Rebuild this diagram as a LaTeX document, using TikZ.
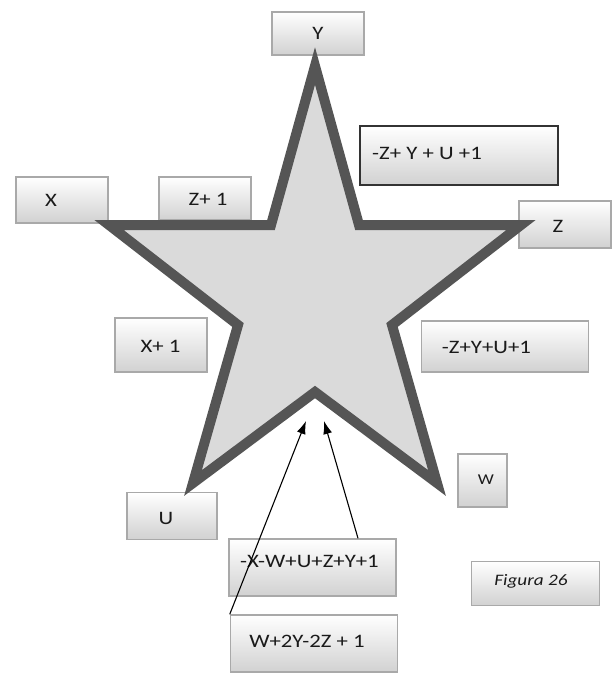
\documentclass[tikz,border=0pt]{standalone}
\usepackage{fontspec}
\setmainfont[FakeStretch=1.2]{Carlito}
\usetikzlibrary{arrows.meta,calc}
\definecolor{boxgray}{HTML}{A9A9A9}
\definecolor{starline}{HTML}{555555}
\definecolor{starfill}{HTML}{DADADA}
\definecolor{txt}{HTML}{1A1A1A}
\tikzset{
  boxst/.style={draw=boxgray, line width=1.5pt, top color=white, bottom color=black!18, inner sep=0pt},
  lbl/.style={text=txt, font=\fontsize{19}{21}\selectfont, inner sep=0pt},
  arr/.style={line width=1.1pt, -{Latex[length=13pt,width=9pt]}},
}
\begin{document}
\begin{tikzpicture}[x=1pt,y=-1pt]
\useasboundingbox (0,0) rectangle (614,675);
% boxes
\node[boxst, minimum width=92pt, minimum height=43pt] (Yb) at (318,33.5) {};
\node[lbl] (Yt) at (318,33) {Y};
\node[boxst, draw=black!80, line width=2pt, minimum width=198pt, minimum height=59pt] (T1b) at (458.5,155.5) {};
\node[lbl, anchor=west] (T1t) at (372,153) {-Z+ Y + U +1};
\node[boxst, minimum width=92pt, minimum height=46pt] (Xb) at (62,200) {};
\node[lbl] (Xt) at (51,200) {X};
\node[boxst, minimum width=92pt, minimum height=43pt] (Z1b) at (205,198.5) {};
\node[lbl] (Z1t) at (208,199) {Z+ 1};
\node[boxst, minimum width=92pt, minimum height=47pt] (Zb) at (565,224.5) {};
\node[lbl] (Zt) at (558,226) {Z};
\node[boxst, minimum width=92pt, minimum height=54pt] (X1b) at (161,345) {};
\node[lbl] (X1t) at (160.5,346) {X+ 1};
\node[boxst, minimum width=167pt, minimum height=51pt] (T2b) at (505,346.5) {};
\node[lbl] (T2t) at (486.5,347) {-Z+Y+U+1};
\node[boxst, minimum width=49pt, minimum height=53pt] (Wb) at (482.5,480.5) {};
\node[lbl, font=\fontsize{15}{17}\selectfont] (Wt) at (486,480) {W};
\node[boxst, minimum width=90pt, minimum height=47pt] (Ub) at (172,516) {};
\node[lbl] (Ut) at (166,518) {U};
\node[boxst, minimum width=167pt, minimum height=57pt] (B1b) at (312.5,567.5) {};
\node[lbl] (B1t) at (309.5,561) {-X-W+U+Z+Y+1};
\node[boxst, minimum width=167pt, minimum height=57pt] (B2b) at (314,643.5) {};
\node[lbl] (B2t) at (307,641) {W+2Y-2Z + 1};
\node[boxst, minimum width=128pt, minimum height=44pt] (Fb) at (535.5,583.5) {};
\node[lbl, font=\fontsize{16}{18}\selectfont\itshape] (Ft) at (531,581) {Figura 26};
% star
\draw[line width=10pt, draw=starline, fill=starfill, line join=miter]
  (315,66) -- (359,225) -- (521,225) -- (392,325) -- (437,483) -- (315,392)
  -- (193,483) -- (238,325) -- (109,225) -- (271,225) -- cycle;
% arrows
\coordinate (tip1) at (306,421);
\coordinate (tip2) at (324,421);
\draw[arr] (B2b.north west) -- (tip1);
\draw[arr] ($(B1b.north west)!0.77!(B1b.north east)$) -- (tip2);
\end{tikzpicture}
\end{document}
